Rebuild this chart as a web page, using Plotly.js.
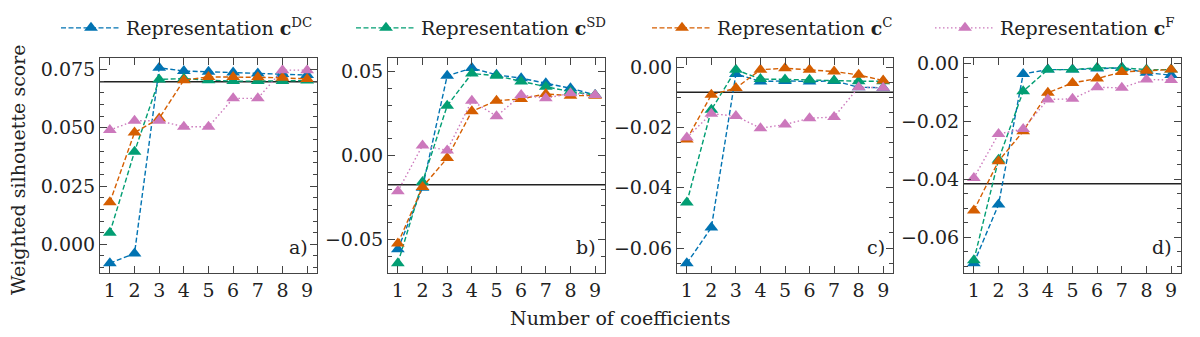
<!DOCTYPE html>
<html>
<head>
<meta charset="utf-8">
<script src="https://cdn.plot.ly/plotly-3.0.1.min.js"></script>
<style>
  html, body { margin: 0; padding: 0; background: #fff; }
  #plot { width: 1200px; height: 337px; }
</style>
</head>
<body>
<div id="plot"></div>
<script>
// number of coefficients
const nCoef = [1, 2, 3, 4, 5, 6, 7, 8, 9];

// panel a)
const aDC = [-0.0081, -0.0039, 0.0757, 0.0743, 0.0740, 0.0737, 0.0733, 0.0730, 0.0726];
const aSD = [0.0050, 0.0397, 0.0707, 0.0711, 0.0704, 0.0700, 0.0700, 0.0700, 0.0702];
const aC  = [0.0180, 0.0479, 0.0540, 0.0704, 0.0718, 0.0718, 0.0716, 0.0714, 0.0709];
const aF  = [0.0490, 0.0530, 0.0530, 0.0504, 0.0504, 0.0626, 0.0626, 0.0747, 0.0747];
const aBase = 0.0697;

// panel b)
const bDC = [-0.0559, -0.0192, 0.0474, 0.0520, 0.0480, 0.0460, 0.0430, 0.0400, 0.0360];
const bSD = [-0.0642, -0.0158, 0.0296, 0.0488, 0.0474, 0.0440, 0.0409, 0.0380, 0.0360];
const bC  = [-0.0524, -0.0188, -0.0016, 0.0263, 0.0326, 0.0336, 0.0366, 0.0356, 0.0356];
const bF  = [-0.0213, 0.0059, 0.0030, 0.0326, 0.0233, 0.0360, 0.0340, 0.0370, 0.0360];
const bBase = -0.0174;

// panel c)
const cDC = [-0.0651, -0.0532, -0.0022, -0.0047, -0.0045, -0.0047, -0.0045, -0.0066, -0.0068];
const cSD = [-0.0449, -0.0141, -0.0008, -0.0039, -0.0040, -0.0041, -0.0044, -0.0046, -0.0046];
const cC  = [-0.0240, -0.0091, -0.0069, -0.0008, -0.0003, -0.0008, -0.0014, -0.0025, -0.0044];
const cF  = [-0.0233, -0.0154, -0.0162, -0.0202, -0.0190, -0.0169, -0.0165, -0.0066, -0.0068];
const cBase = -0.0083;

// panel d)
const dDC = [-0.0689, -0.0487, -0.0036, -0.0021, -0.0021, -0.0017, -0.0015, -0.0032, -0.0040];
const dSD = [-0.0679, -0.0332, -0.0096, -0.0021, -0.0021, -0.0015, -0.0015, -0.0021, -0.0021];
const dC  = [-0.0507, -0.0337, -0.0234, -0.0101, -0.0067, -0.0052, -0.0029, -0.0025, -0.0021];
const dF  = [-0.0395, -0.0243, -0.0226, -0.0124, -0.0122, -0.0082, -0.0084, -0.0055, -0.0057];
const dBase = -0.0415;

const seriesNames = [
    "Representation <b>c</b><sup>DC</sup>",
    "Representation <b>c</b><sup>SD</sup>",
    "Representation <b>c</b><sup>C</sup>",
    "Representation <b>c</b><sup>F</sup>"
];
const panelLabels = ["a)", "b)", "c)", "d)"];
const yTitle = "Weighted silhouette score";
const xTitle = "Number of coefficients";

const colors = ["#0173b2", "#029e73", "#d55e00", "#cc78bc"];
const dashes = ["5px,2.5px", "5px,2.5px", "5px,2.5px", "1.5px,2.5px"];
// left edge of each legend entry, in px
const legendLeft = [56, 351, 647, 930];

const panels = [
    { series: [aDC, aSD, aC, aF], base: aBase, range: [-0.0123, 0.0799], dtick: 0.025, minor: 0.005, fmt: ".3f" },
    { series: [bDC, bSD, bC, bF], base: bBase, range: [-0.0700, 0.0580], dtick: 0.05, minor: 0.01, fmt: ".2f" },
    { series: [cDC, cSD, cC, cF], base: cBase, range: [-0.0683, 0.0031], dtick: 0.02, minor: 0.005, fmt: ".2f" },
    { series: [dDC, dSD, dC, dF], base: dBase, range: [-0.0723, 0.0019], dtick: 0.02, minor: 0.005, fmt: ".2f" }
];

const xDomains = [
    [100 / 1200, 317 / 1200],
    [388 / 1200, 605 / 1200],
    [677 / 1200, 893 / 1200],
    [964 / 1200, 1181 / 1200]
];
const yDomain = [1 - 273 / 337, 1 - 58 / 337];

const serif = "DejaVu Serif";
const font = { family: serif, size: 19, color: "#222" };

const traces = [];
const shapes = [];
const annotations = [];
const layout = {
    width: 1200,
    height: 337,
    margin: { l: 0, r: 0, t: 0, b: 0 },
    paper_bgcolor: "#fff",
    plot_bgcolor: "#fff",
    font: font,
    showlegend: true
};

// one legend per series so each entry sits where the reference has it
legendLeft.forEach((px, s) => {
    const key = s === 0 ? "legend" : "legend" + (s + 1);
    layout[key] = {
        orientation: "h",
        x: px / 1200,
        xanchor: "left",
        y: 1 - 28 / 337,
        yanchor: "middle",
        font: { family: serif, size: 19, color: "#222" },
        itemwidth: 60,
        bgcolor: "rgba(0,0,0,0)"
    };
});

panels.forEach((p, k) => {
    const sfx = k === 0 ? "" : String(k + 1);
    const xa = "x" + sfx;
    const ya = "y" + sfx;

    p.series.forEach((vals, s) => {
        traces.push({
            x: nCoef,
            y: vals,
            xaxis: xa,
            yaxis: ya,
            type: "scatter",
            mode: "lines+markers",
            name: seriesNames[s],
            showlegend: k === 0,
            legend: s === 0 ? "legend" : "legend" + (s + 1),
            line: { color: colors[s], dash: dashes[s], width: 1.4 },
            marker: { symbol: "triangle-up", size: 12, color: colors[s] }
        });
    });

    shapes.push({
        type: "line",
        xref: xa + " domain",
        yref: ya,
        x0: 0, x1: 1,
        y0: p.base, y1: p.base,
        line: { color: "#222", width: 1.5 },
        layer: "below"
    });

    annotations.push({
        text: panelLabels[k],
        xref: xa + " domain",
        yref: ya + " domain",
        x: 0.97, y: 0.06,
        xanchor: "right", yanchor: "bottom",
        showarrow: false,
        font: { family: serif, size: 19, color: "#222" }
    });

    layout["xaxis" + sfx] = {
        domain: xDomains[k],
        anchor: ya,
        range: [0.6, 9.4],
        tickvals: nCoef,
        ticks: "inside",
        ticklen: 7,
        tickcolor: "#444",
        mirror: "allticks",
        showline: true,
        linecolor: "#444",
        linewidth: 1,
        showgrid: false,
        zeroline: false,
        tickfont: font
    };
    layout["yaxis" + sfx] = {
        domain: yDomain,
        anchor: xa,
        range: p.range,
        dtick: p.dtick,
        tick0: 0,
        tickformat: p.fmt,
        ticks: "inside",
        ticklen: 7,
        tickcolor: "#444",
        minor: { dtick: p.minor, ticks: "inside", ticklen: 4, tickcolor: "#444" },
        mirror: "allticks",
        showline: true,
        linecolor: "#444",
        linewidth: 1,
        showgrid: false,
        zeroline: false,
        tickfont: font
    };
});

annotations.push({
    text: xTitle,
    xref: "paper", yref: "paper",
    x: 620 / 1200, y: 1 - 318 / 337,
    xanchor: "center", yanchor: "middle",
    showarrow: false,
    font: { family: serif, size: 19, color: "#222" }
});
annotations.push({
    text: yTitle,
    xref: "paper", yref: "paper",
    x: 18 / 1200, y: 1 - 170 / 337,
    xanchor: "center", yanchor: "middle",
    textangle: -90,
    showarrow: false,
    font: { family: serif, size: 19, color: "#222" }
});

layout.shapes = shapes;
layout.annotations = annotations;

Plotly.newPlot("plot", traces, layout, { displayModeBar: false, staticPlot: true });
</script>
</body>
</html>
